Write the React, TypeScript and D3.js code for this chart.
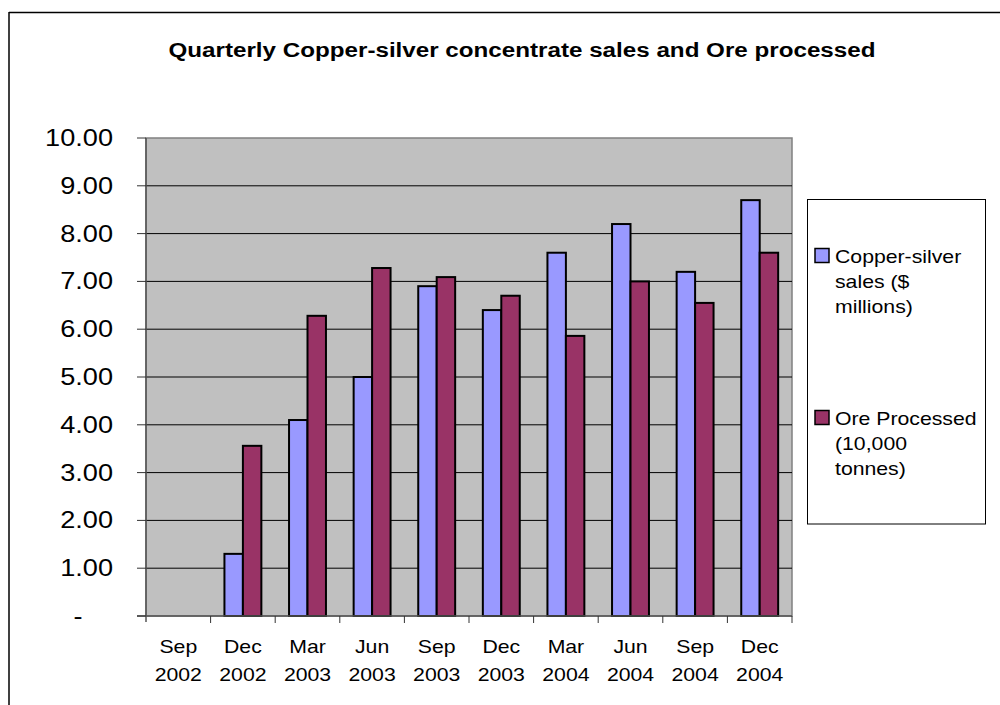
import React from "react";
import * as d3 from "d3";

const categories = [
  ["Sep", "2002"],
  ["Dec", "2002"],
  ["Mar", "2003"],
  ["Jun", "2003"],
  ["Sep", "2003"],
  ["Dec", "2003"],
  ["Mar", "2004"],
  ["Jun", "2004"],
  ["Sep", "2004"],
  ["Dec", "2004"],
];
const salesValues: (number | null)[] = [null, 1.3, 4.1, 5.0, 6.9, 6.4, 7.6, 8.2, 7.2, 8.7];
const oreValues: (number | null)[] = [null, 3.56, 6.28, 7.28, 7.09, 6.7, 5.86, 7.0, 6.55, 7.6];
const yTicks = [0, 1, 2, 3, 4, 5, 6, 7, 8, 9, 10];
const yTickLabels = ["-", "1.00", "2.00", "3.00", "4.00", "5.00", "6.00", "7.00", "8.00", "9.00", "10.00"];
const seriesNames = [
  ["Copper-silver", "sales ($", "millions)"],
  ["Ore Processed", "(10,000", "tonnes)"],
];
const seriesColors = ["#9999FF", "#993366"];
const title = "Quarterly Copper-silver concentrate sales and Ore processed";

const FONT = "'Liberation Sans', Arial, Helvetica, sans-serif";
const SX = 1.18;

function SText(props: {
  x: number;
  y: number;
  size: number;
  anchor?: "start" | "middle" | "end";
  weight?: string | number;
  children: React.ReactNode;
}) {
  const { x, y, size, anchor = "start", weight = "normal", children } = props;
  return (
    <text
      transform={`translate(${x},${y}) scale(${SX},1)`}
      fontSize={size}
      fontFamily={FONT}
      fontWeight={weight}
      textAnchor={anchor}
      fill="#000"
    >
      {children}
    </text>
  );
}

export default function App() {
  const W = 1000;
  const H = 705;
  const left = 146;
  const right = 792;
  const top = 138;
  const bottom = 616;

  const x = d3
    .scaleBand<number>()
    .domain(categories.map((_, i) => i))
    .range([left, right])
    .paddingInner(0)
    .paddingOuter(0);
  const y = d3.scaleLinear().domain([0, 10]).range([bottom, top]);
  const bw = x.bandwidth();
  const barW = bw / 3.5;

  const series = [salesValues, oreValues];

  return (
    <div style={{ position: "fixed", left: 0, top: 0 }}>
      <svg width={W} height={H} style={{ display: "block", background: "#fff" }}>
        {/* outer chart border */}
        <line x1={9} y1={12.5} x2={W + 5} y2={12.5} stroke="#000" strokeWidth={1.5} />
        <line x1={9} y1={12} x2={9} y2={H + 5} stroke="#000" strokeWidth={1.5} />

        {/* title */}
        <text
          x={522}
          y={57}
          fontSize={20}
          fontFamily={FONT}
          fontWeight="bold"
          textAnchor="middle"
          textLength={707}
          lengthAdjust="spacingAndGlyphs"
        >
          {title}
        </text>

        {/* plot area */}
        <rect x={left} y={top} width={right - left} height={bottom - top} fill="#C0C0C0" stroke="#808080" strokeWidth={1.5} />

        {/* gridlines */}
        {yTicks.slice(1, -1).map((t) => (
          <line key={t} x1={left} x2={right} y1={y(t)} y2={y(t)} stroke="#000" strokeWidth={1} />
        ))}

        {/* bars */}
        {series.map((vals, si) =>
          vals.map((v, i) =>
            v == null ? null : (
              <rect
                key={`${si}-${i}`}
                x={(x(i) as number) + (bw - 2 * barW) / 2 + si * barW}
                y={y(v)}
                width={barW}
                height={y(0) - y(v)}
                fill={seriesColors[si]}
                stroke="#000"
                strokeWidth={2}
              />
            )
          )
        )}

        {/* axes */}
        <line x1={left} x2={left} y1={top} y2={bottom + 6} stroke="#555" strokeWidth={1.5} />
        <line x1={left - 9} x2={right} y1={bottom} y2={bottom} stroke="#555" strokeWidth={1.5} />
        {yTicks.map((t) => (
          <line key={t} x1={left - 9} x2={left} y1={y(t)} y2={y(t)} stroke="#333" strokeWidth={1} />
        ))}
        {categories.map((_, i) => (
          <line
            key={i}
            x1={(x(i) as number) + bw}
            x2={(x(i) as number) + bw}
            y1={bottom}
            y2={bottom + 7}
            stroke="#333"
            strokeWidth={1}
          />
        ))}

        {/* y labels */}
        {yTicks.map((t, i) => (
          <SText key={t} x={yTickLabels[i] === "-" ? 82.5 : 113} y={y(t) + 8} size={23} anchor="end">
            {yTickLabels[i]}
          </SText>
        ))}

        {/* x labels */}
        {categories.map((c, i) => {
          const cx = (x(i) as number) + bw / 2;
          return (
            <g key={i}>
              <SText x={cx} y={653} size={18} anchor="middle">
                {c[0]}
              </SText>
              <SText x={cx} y={681} size={18} anchor="middle">
                {c[1]}
              </SText>
            </g>
          );
        })}

        {/* legend */}
        <rect x={807.5} y={199.5} width={178} height={324.5} fill="#fff" stroke="#000" strokeWidth={1} />
        {seriesNames.map((lines, si) => {
          const base = si === 0 ? 263 : 425;
          return (
            <g key={si}>
              <rect x={815} y={base - 14.5} width={14} height={14} fill={seriesColors[si]} stroke="#000" strokeWidth={1.5} />
              {lines.map((l, li) => (
                <SText key={li} x={835} y={base + li * 25} size={18}>
                  {l}
                </SText>
              ))}
            </g>
          );
        })}
      </svg>
    </div>
  );
}
